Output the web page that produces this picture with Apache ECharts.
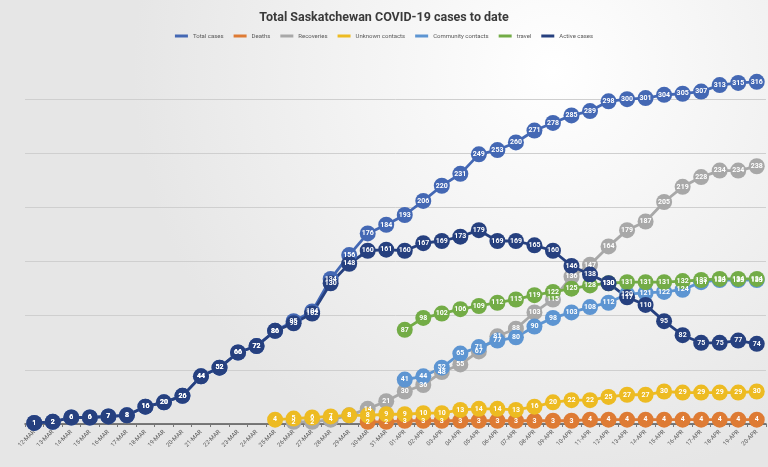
<!DOCTYPE html>
<html>
<head>
<meta charset="utf-8">
<script src="https://cdn.jsdelivr.net/npm/echarts@6/dist/echarts.min.js"></script>
<style>
html,body{margin:0;padding:0;background:#ececec;}
#c{width:768px;height:467px;}
</style>
</head>
<body>
<div id="c"></div>
<script>
const categories = ['12-MAR','13-MAR','14-MAR','15-MAR','16-MAR','17-MAR','18-MAR','19-MAR','20-MAR','21-MAR',
  '22-MAR','23-MAR','24-MAR','25-MAR','26-MAR','27-MAR','28-MAR','29-MAR','30-MAR','31-MAR',
  '01-APR','02-APR','03-APR','04-APR','05-APR','06-APR','07-APR','08-APR','09-APR','10-APR',
  '11-APR','12-APR','13-APR','14-APR','15-APR','16-APR','17-APR','18-APR','19-APR','20-APR'];

const totalCases = [1,2,6,6,7,8,16,20,26,44,52,66,72,86,95,104,134,156,176,184,
  193,206,220,231,249,253,260,271,278,285,289,298,300,301,304,305,307,313,315,316];

const deaths = [null,null,null,null,null,null,null,null,null,null,null,null,null,null,null,null,null,null,2,2,
  3,3,3,3,3,3,3,3,3,3,4,4,4,4,4,4,4,4,4,4];

const recoveries = [null,null,null,null,null,null,null,null,null,null,null,null,null,null,2,2,4,8,14,21,
  30,36,48,55,67,81,88,103,115,136,147,164,179,187,205,219,228,234,234,238];

const unknownContacts = [null,null,null,null,null,null,null,null,null,null,null,null,null,4,5,6,7,8,8,9,
  9,10,10,13,14,14,13,16,20,22,22,25,27,27,30,29,29,29,29,30];

const communityContacts = [null,null,null,null,null,null,null,null,null,null,null,null,null,null,null,null,null,null,null,null,
  41,44,52,65,71,77,80,90,98,103,108,112,120,121,122,124,131,133,133,133];

const travel = [null,null,null,null,null,null,null,null,null,null,null,null,null,null,null,null,null,null,null,null,
  87,98,102,106,109,112,115,119,122,125,128,130,131,131,131,132,133,134,134,134];

const activeCases = [1,2,6,6,7,8,16,20,26,44,52,66,72,86,93,102,130,148,160,161,
  160,167,169,173,179,169,169,165,160,146,138,130,117,110,95,82,75,75,77,74];

const seriesDefs = [
  ['Total cases', totalCases, '#4468B4'],
  ['Deaths', deaths, '#DE7B34'],
  ['Recoveries', recoveries, '#A8A8A8'],
  ['Unknown contacts', unknownContacts, '#EDBB22'],
  ['Community contacts', communityContacts, '#5D95D2'],
  ['travel', travel, '#73AC46'],
  ['Active cases', activeCases, '#26407F']
];

const chart = echarts.init(document.getElementById('c'));
chart.setOption({
  backgroundColor: {
    type: 'radial', x: 0.72, y: 0.15, r: 0.9,
    colorStops: [{offset: 0, color: '#ffffff'}, {offset: 1, color: '#e6e6e6'}]
  },
  animation: false,
  title: {
    text: 'Total Saskatchewan COVID-19 cases to date',
    left: 'center', top: 6,
    textStyle: {fontSize: 12.5, fontWeight: 'bold', color: '#3a3a3a', fontFamily: 'Roboto, sans-serif'}
  },
  legend: {
    top: 28, left: 'center',
    icon: 'rect', itemWidth: 13, itemHeight: 3, itemGap: 10,
    textStyle: {fontSize: 6, color: '#595959', fontFamily: 'Roboto, sans-serif'},
    data: seriesDefs.map(d => d[0])
  },
  grid: {left: 25, right: 2, top: 45, bottom: 43},
  xAxis: {
    type: 'category', data: categories, boundaryGap: true,
    axisLine: {lineStyle: {color: '#555', width: 1.5}},
    axisTick: {show: true, length: 3, lineStyle: {color: '#777'}},
    axisLabel: {rotate: 45, fontSize: 6, color: '#595959', interval: 0, margin: 7, fontFamily: 'Roboto, sans-serif'}
  },
  yAxis: {
    type: 'value', min: 0, max: 350, interval: 50,
    axisLabel: {show: false}, axisLine: {show: false}, axisTick: {show: false},
    splitLine: {lineStyle: {color: ['#cfcfcf','#cfcfcf','#cfcfcf','#cfcfcf','#cfcfcf','#cfcfcf','#cfcfcf','rgba(0,0,0,0)'], width: 1}}
  },
  series: seriesDefs.map(d => ({
    name: d[0], type: 'line', data: d[1],
    symbol: 'circle', symbolSize: 16,
    lineStyle: {color: d[2], width: 2.8},
    itemStyle: {color: d[2]},
    label: {show: true, position: 'inside', color: '#ffffff', fontSize: 7, fontWeight: 'bold', fontFamily: 'Roboto, sans-serif'},
    labelLayout: {hideOverlap: false}
  }))
});
</script>
</body>
</html>
